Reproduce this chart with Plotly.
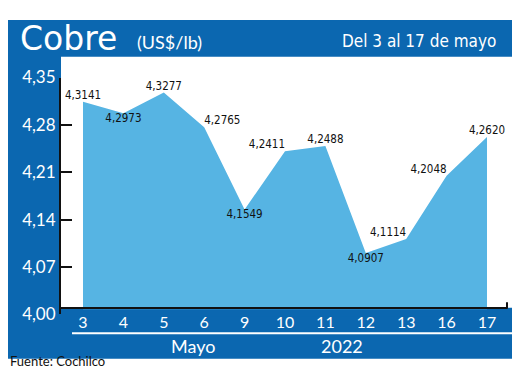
import plotly.graph_objects as go

days = ["3", "4", "5", "6", "9", "10", "11", "12", "13", "16", "17"]
prices = [4.3141, 4.2973, 4.3277, 4.2765, 4.1549, 4.2411, 4.2488, 4.0907, 4.1114, 4.2048, 4.2620]
label_pos = ["top center", "bottom center", "top center", "top right", "bottom center",
             "top left", "top center", "bottom center", "top left", "top left", "top center"]
y_ticks = [4.00, 4.07, 4.14, 4.21, 4.28, 4.35]

# page body has an 8px margin: the figure is sized so that it fits the window
OFF = 8
W, H = 520 - 2 * OFF, 390 - 2 * OFF
DARK = "#0b67b0"
LIGHT = "#56b4e3"
NARROW = "Liberation Sans Narrow, DejaVu Sans Condensed, sans-serif"


def px(x):
    return (x - OFF) / W


def py(y):
    return 1 - (y - OFF) / H


labels = [f"{v:.4f}".replace(".", ",") for v in prices]

fig = go.Figure()
fig.add_trace(go.Scatter(
    x=list(range(len(days))), y=prices,
    mode="lines+text", fill="tozeroy",
    fillcolor=LIGHT, line=dict(width=0, color=LIGHT),
    text=labels, textposition=label_pos,
    textfont=dict(family=NARROW, size=11.5, color="#111"),
    cliponaxis=False, hoverinfo="skip", showlegend=False,
))

shapes = [
    dict(type="rect", xref="paper", yref="paper", x0=px(8), x1=px(512), y0=py(368), y1=py(9),
         fillcolor=DARK, line=dict(width=0), layer="below"),
    dict(type="rect", xref="paper", yref="paper", x0=px(61), x1=px(512), y0=py(314), y1=py(48),
         fillcolor="white", line=dict(width=0), layer="below"),
    dict(type="rect", xref="paper", yref="paper", x0=px(74), x1=px(512), y0=py(323), y1=py(315.5),
         fillcolor=DARK, line=dict(width=0), layer="above"),
    dict(type="line", xref="paper", yref="paper", x0=px(72), x1=px(512), y0=py(341), y1=py(341),
         line=dict(color="white", width=2), layer="above"),
    dict(type="line", xref="paper", yref="paper", x0=px(507), x1=px(507), y0=py(315), y1=py(308),
         line=dict(color="#111", width=2), layer="above"),
]

annotations = [
    dict(text="Cobre", x=px(18), y=py(29), xref="paper", yref="paper", xanchor="left", yanchor="middle",
         showarrow=False, font=dict(family="DejaVu Sans, sans-serif", size=33, color="white")),
    dict(text="(US$/lb)", x=px(135), y=py(32), xref="paper", yref="paper", xanchor="left", yanchor="middle",
         showarrow=False, font=dict(family="Lato, sans-serif", size=18, color="white")),
    dict(text="Del 3 al 17 de mayo", x=px(498), y=py(31), xref="paper", yref="paper", xanchor="right",
         yanchor="middle", showarrow=False, font=dict(family=NARROW, size=17, color="white")),
    dict(text="Mayo", x=px(193), y=py(354), xref="paper", yref="paper", xanchor="center", yanchor="middle",
         showarrow=False, font=dict(family="Lato, sans-serif", size=18, color="white")),
    dict(text="2022", x=px(342), y=py(354), xref="paper", yref="paper", xanchor="center", yanchor="middle",
         showarrow=False, font=dict(family="Lato, sans-serif", size=18, color="white")),
    dict(text="Fuente: Cochilco", x=px(8), y=py(381), xref="paper", yref="paper", xanchor="left",
         yanchor="bottom", showarrow=False, font=dict(family="Lato, sans-serif", size=13, color="#111")),
]

step = (487 - 83) / 10
fig.update_layout(
    width=W, height=H, margin=dict(l=0, r=0, t=0, b=0),
    paper_bgcolor="white", plot_bgcolor="rgba(0,0,0,0)",
    separators=",.",
    shapes=shapes, annotations=annotations,
    xaxis=dict(
        domain=[px(61), px(507)],
        range=[(61 - 83) / step, (507 - 83) / step],
        tickmode="array", tickvals=list(range(len(days))), ticktext=days,
        anchor="free", position=py(314),
        showline=True, linecolor="#111", linewidth=2,
        ticks="", showgrid=False, zeroline=False,
        tickfont=dict(family="Lato, sans-serif", size=16, color="white"),
    ),
    yaxis=dict(
        domain=[py(321), py(70)],
        range=[4.00, 4.35],
        tickmode="array", tickvals=y_ticks, tickformat=".2f",
        showline=True, linecolor="#111", linewidth=2,
        ticks="inside", ticklen=11, tickwidth=2, tickcolor="#111",
        showgrid=False, zeroline=False,
        tickfont=dict(family="Lato, sans-serif", size=17, color="white"),
    ),
)

fig.write_html("out.html")
